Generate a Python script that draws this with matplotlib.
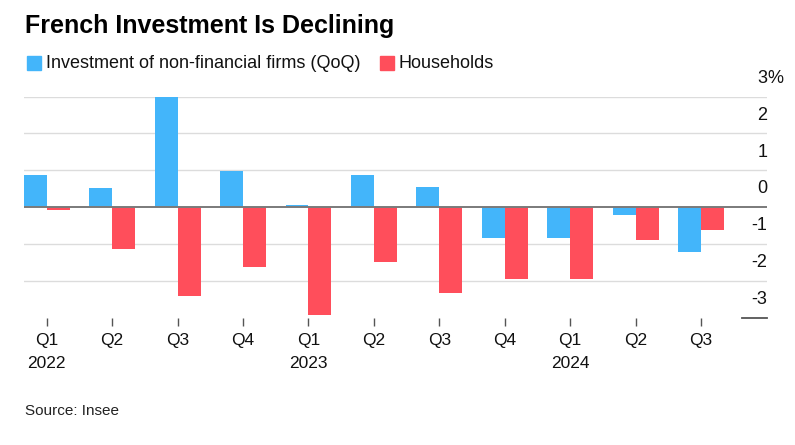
import matplotlib.pyplot as plt
import numpy as np

plt.rcParams['font.family'] = ['Liberation Sans', 'DejaVu Sans']

quarters = ['Q1', 'Q2', 'Q3', 'Q4', 'Q1', 'Q2', 'Q3', 'Q4', 'Q1', 'Q2', 'Q3']
years = ['2022', '', '', '', '2023', '', '', '', '2024', '', '']
firms = [0.86, 0.52, 3.0, 0.98, 0.07, 0.86, 0.54, -0.83, -0.85, -0.20, -1.21]
households = [-0.07, -1.14, -2.41, -1.62, -2.92, -1.49, -2.32, -1.95, -1.96, -0.90, -0.63]
yticks = [-3, -2, -1, 0, 1, 2, 3]

blue = '#43b5fa'
red = '#ff4e5b'

fig = plt.figure(figsize=(7.95, 4.45), dpi=100)
ax = fig.add_axes([0.030, 0.286, 0.935, 0.497])

x = np.arange(len(quarters))
w = 0.35
ax.bar(x - w / 2, firms, w, color=blue, zorder=3, clip_on=False)
ax.bar(x + w / 2, households, w, color=red, zorder=3, clip_on=False)

ax.set_xlim(-0.35, len(quarters) - 1 + 1.01)
ax.set_ylim(-3, 3)

# gridlines and labels sitting above them
for t in yticks:
    if t == 0:
        ax.axhline(0, color='#7a7a7a', lw=1.4, zorder=4)
    elif t == -3:
        ax.axhline(t, xmin=0.966, xmax=1.0, color='#555555', lw=1.3, clip_on=False)
    else:
        ax.axhline(t, color='#dcdcdc', lw=1.0, zorder=1)
    ax.annotate(str(t), xy=(1.0, t), xycoords=('axes fraction', 'data'),
                xytext=(0, 7), textcoords='offset points',
                ha='right', va='bottom', fontsize=13, color='#111111',
                annotation_clip=False)
ax.annotate('%', xy=(1.0, yticks[-1]), xycoords=('axes fraction', 'data'),
            xytext=(0, 7), textcoords='offset points',
            ha='left', va='bottom', fontsize=13, color='#111111',
            annotation_clip=False)

ax.set_yticks([])
labels = [q + ('\n' + y if y else '') for q, y in zip(quarters, years)]
ax.set_xticks(x)
ax.set_xticklabels(labels, fontsize=12.5, color='#111111', va='top')
for lab in ax.get_xticklabels():
    lab.set_linespacing(1.65)
ax.tick_params(axis='x', length=6, width=1.0, color='#555555', pad=5)
for s in ax.spines.values():
    s.set_visible(False)

fig.text(0.031, 1 - 26 / 445, 'French Investment Is Declining', fontsize=18,
         fontweight='bold', ha='left', va='center', color='#000000')

# legend
fig.patches.append(plt.Rectangle((27 / 795, 1 - 70 / 445), 14 / 795, 14 / 445,
                                 transform=fig.transFigure, color=blue))
fig.text(46 / 795, 1 - 63 / 445, 'Investment of non-financial firms (QoQ)',
         fontsize=13, ha='left', va='center', color='#111111')
fig.patches.append(plt.Rectangle((380 / 795, 1 - 70 / 445), 14 / 795, 14 / 445,
                                 transform=fig.transFigure, color=red))
fig.text(399 / 795, 1 - 63 / 445, 'Households',
         fontsize=13, ha='left', va='center', color='#111111')

fig.text(25 / 795, 1 - 411 / 445, 'Source: Insee', fontsize=11,
         ha='left', va='center', color='#222222')

fig.savefig('out.png', dpi=100, facecolor='white')
